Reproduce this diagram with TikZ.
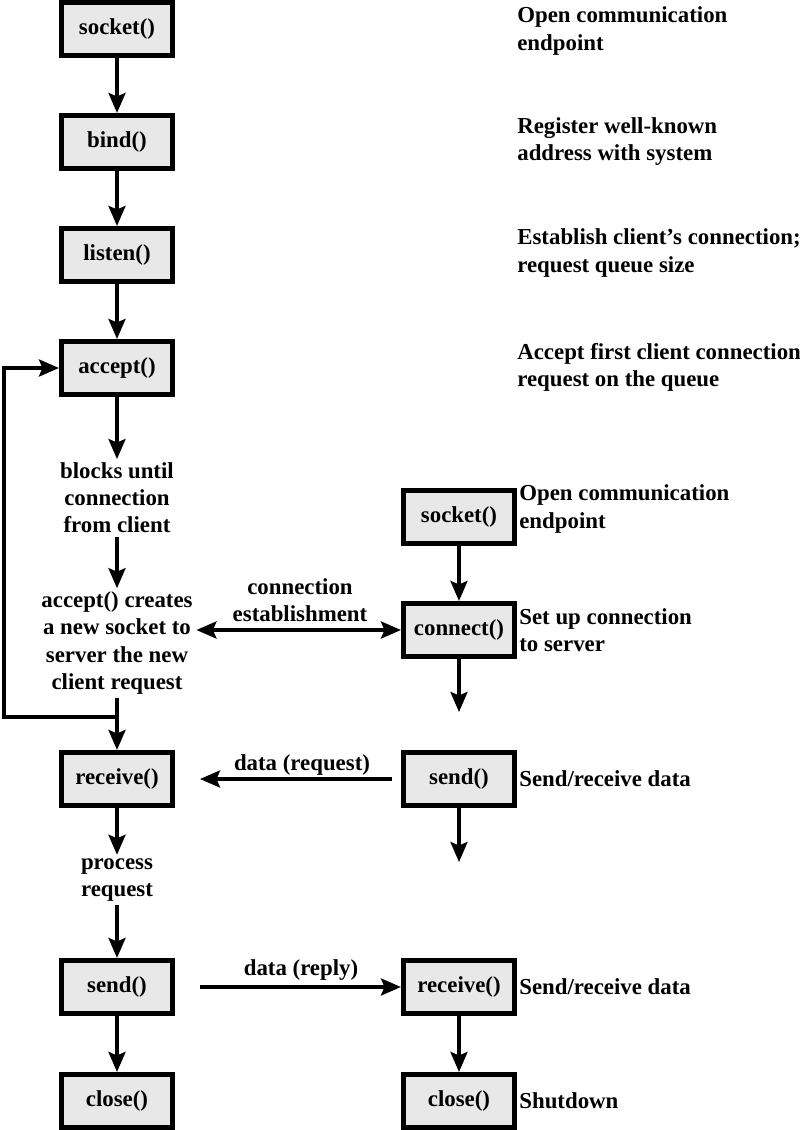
\documentclass[tikz,border=0pt]{standalone}
\usepackage{fontspec}
\setmainfont{Liberation Serif}
\usetikzlibrary{arrows.meta}
\definecolor{boxgray}{gray}{0.91}

\begin{document}
\begin{tikzpicture}[x=0.02cm, y=-0.02cm,
    >={Stealth[length=0.4cm,width=0.34cm,inset=0.07cm]},
    every node/.style={font=\bfseries\fontsize{13}{15.4}\selectfont},
    callbox/.style={draw, line width=2.6pt, fill=boxgray, minimum width=2.23cm, minimum height=1.07cm, inner sep=0pt},
    flow/.style={->, line width=2pt},
    note/.style={align=center, inner sep=2pt},
    descr/.style={align=left, anchor=west, inner sep=0pt}]

	\useasboundingbox (0,0) rectangle (800,1130);

	% --- SERVEUR ---
	\node[callbox] (ssock)   at (117,29)   {socket()};
	\node[callbox] (sbind)   at (117,142)  {bind()};
	\node[callbox] (slisten) at (117,255)  {listen()};
	\node[callbox] (saccept) at (117,368)  {accept()};
	\node[note]    (blocks)  at (117,498)  {blocks until\\connection\\from client};
	\node[note]    (newsock) at (117,643)  {accept() creates\\a new socket to\\server the new\\client request};
	\node[callbox] (srecv)   at (117,779)  {receive()};
	\node[note]    (process) at (117,880)  {process\\request};
	\node[callbox] (ssend)   at (117,987)  {send()};
	\node[callbox] (sclose)  at (117,1101) {close()};

	\draw[flow] (ssock) -- (sbind);
	\draw[flow] (sbind) -- (slisten);
	\draw[flow] (slisten) -- (saccept);
	\draw[flow] (saccept) -- (blocks);
	\draw[flow] (blocks) -- (newsock);
	\draw[flow] (newsock) -- (srecv);
	\draw[flow] (srecv) -- (process);
	\draw[flow] (process) -- (ssend);
	\draw[flow] (ssend) -- (sclose);

	% boucle vers accept()
	\coordinate (loop) at (117,717);
	\coordinate (loopcorner) at (4,717);
	\draw[flow] (loop) -- (loopcorner) |- (saccept.west);

	% --- CLIENT ---
	\node[callbox] (csock)  at (459,517)  {socket()};
	\node[callbox] (cconn)  at (459,630)  {connect()};
	\node[callbox] (csend)  at (459,779)  {send()};
	\node[callbox] (crecv)  at (459,987)  {receive()};
	\node[callbox] (cclose) at (459,1101) {close()};

	\coordinate (cconnend) at (459,712);
	\coordinate (csendend) at (459,862);

	\draw[flow] (csock) -- (cconn);
	\draw[flow] (cconn) -- (cconnend);
	\draw[flow] (csend) -- (csendend);
	\draw[flow] (crecv) -- (cclose);

	% Échanges entre client et serveur
	\draw[flow, <->] (cconn.west) -- (cconn.west -| newsock.east);
	\node (conlab) at (300,600) [align=center] {connection\\establishment};
	\draw[flow, shorten <=0.18cm, shorten >=0.5cm] (csend.west) -- (srecv.east);
	\node (reqlab) at (302,765) {data (request)};
	\draw[flow, shorten <=0.5cm] (ssend.east) -- (crecv.west);
	\node (replab) at (301,970) {data (reply)};

	% Descriptions
	\node[descr] (d1) at (517,31)   {Open communication\\endpoint};
	\node[descr] (d2) at (517,142)  {Register well-known\\address with system};
	\node[descr] (d3) at (517,253)  {Establish client's connection;\\request queue size};
	\node[descr] (d4) at (517,367)  {Accept first client connection\\request on the queue};
	\node[descr] (d5) at (519,509)  {Open communication\\endpoint};
	\node[descr] (d6) at (519,630)  {Set up connection\\to server};
	\node[descr] (d7) at (519,779)  {Send/receive data};
	\node[descr] (d8) at (519,987)  {Send/receive data};
	\node[descr] (d9) at (519,1101) {Shutdown};
\end{tikzpicture}
\end{document}
